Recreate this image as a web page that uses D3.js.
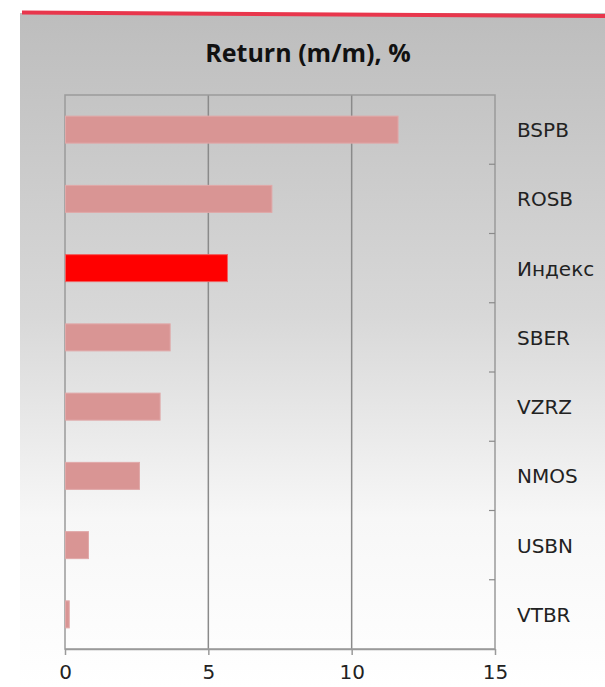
<!DOCTYPE html>
<html>
<head>
<meta charset="utf-8">
<script src="https://cdn.jsdelivr.net/npm/d3@7"></script>
<style>
  html, body { margin: 0; padding: 0; background: #fff; }
  svg { display: block; }
</style>
</head>
<body>
<script>
  const tickers = ['BSPB', 'ROSB', 'Индекс', 'SBER', 'VZRZ', 'NMOS', 'USBN', 'VTBR']
  const returns = [11.6, 7.2, 5.65, 3.65, 3.3, 2.58, 0.8, 0.13]
  const xTicks = [0, 5, 10, 15]
  const highlight = 'Индекс'

  const data = tickers.map((t, i) => ({ name: t, value: returns[i] }))

  let size = { width: 605, height: 687 }
  let plot = { left: 65, right: 495, top: 95, bottom: 649 }

  let svg = d3.select('body')
    .append('svg')
    .attr('width', size.width)
    .attr('height', size.height)

  let defs = svg.append('defs')
  let grad = defs.append('linearGradient')
    .attr('id', 'bg')
    .attr('x1', 0).attr('y1', 0).attr('x2', 0).attr('y2', 1)
  grad.append('stop').attr('offset', '0%').attr('stop-color', '#bdbdbd')
  grad.append('stop').attr('offset', '45%').attr('stop-color', '#d8d8d8')
  grad.append('stop').attr('offset', '75%').attr('stop-color', '#f7f7f7')
  grad.append('stop').attr('offset', '100%').attr('stop-color', '#ffffff')

  svg.append('rect')
    .attr('x', 20).attr('y', 13)
    .attr('width', size.width - 20).attr('height', size.height - 13)
    .attr('fill', 'url(#bg)')

  // red strip on top
  svg.append('line')
    .attr('x1', 22).attr('y1', 12.5)
    .attr('x2', size.width).attr('y2', 16)
    .attr('stroke', '#e8364c')
    .attr('stroke-width', 4)

  svg.append('text')
    .attr('x', 308)
    .attr('y', 61.5)
    .attr('text-anchor', 'middle')
    .style('font-family', '"Open Sans", "Liberation Sans", sans-serif')
    .style('font-size', '25px')
    .style('font-weight', 'bold')
    .attr('fill', '#111')
    .text('Return (m/m), %')

  let xScale = d3.scaleLinear()
    .domain([0, 15])
    .range([plot.left, plot.right])

  let yScale = d3.scaleBand()
    .domain(tickers)
    .range([plot.top, plot.bottom])
    .paddingInner(0.61)
    .paddingOuter(0.305)

  let yBounds = d3.scaleLinear()
    .domain([0, tickers.length])
    .range([plot.top, plot.bottom])

  // vertical grid lines
  svg.append('g')
    .selectAll('line')
    .data(xTicks.slice(1, -1))
    .enter()
    .append('line')
    .attr('x1', d => xScale(d)).attr('x2', d => xScale(d))
    .attr('y1', plot.top).attr('y2', plot.bottom)
    .attr('stroke', '#8a8a8a')
    .attr('stroke-width', 1.5)

  // plot frame
  svg.append('rect')
    .attr('x', plot.left).attr('y', plot.top)
    .attr('width', plot.right - plot.left)
    .attr('height', plot.bottom - plot.top)
    .attr('fill', 'none')
    .attr('stroke', '#9a9a9a')
    .attr('stroke-width', 1.5)

  // category tick marks on the right side
  svg.append('g')
    .selectAll('line')
    .data(d3.range(1, tickers.length))
    .enter()
    .append('line')
    .attr('x1', plot.right - 6).attr('x2', plot.right)
    .attr('y1', d => yBounds(d)).attr('y2', d => yBounds(d))
    .attr('stroke', '#8a8a8a')
    .attr('stroke-width', 1.2)

  // bottom axis
  let xAxis = d3.axisBottom(xScale)
    .tickValues(xTicks)
    .tickSize(6)
    .tickPadding(10)
    .tickSizeOuter(0)

  let gx = svg.append('g')
    .attr('transform', 'translate(0, ' + plot.bottom + ')')
    .call(xAxis)
  gx.select('.domain').attr('stroke', '#9a9a9a').attr('stroke-width', 1.5)
  gx.selectAll('.tick line').attr('stroke', '#9a9a9a').attr('stroke-width', 1.5)
  gx.selectAll('.tick text')
    .attr('fill', '#222')
    .style('font-family', '"DejaVu Sans", Verdana, sans-serif')
    .style('font-size', '20px')

  svg.append('g')
    .selectAll('rect')
    .data(data)
    .enter()
    .append('rect')
    .attr('x', xScale(0) + 0.5)
    .attr('y', d => yScale(d.name))
    .attr('width', d => xScale(d.value) - xScale(0))
    .attr('height', yScale.bandwidth())
    .attr('fill', d => d.name === highlight ? '#ff0000' : '#d99594')
    .attr('stroke', d => d.name === highlight ? '#f06060' : '#e0a8a8')
    .attr('stroke-width', 1)

  svg.append('g')
    .selectAll('text')
    .data(tickers)
    .enter()
    .append('text')
    .attr('x', 517)
    .attr('y', d => yScale(d) + yScale.bandwidth() / 2)
    .attr('dy', '0.37em')
    .attr('fill', '#222')
    .style('font-family', '"DejaVu Sans", Verdana, sans-serif')
    .style('font-size', '20px')
    .text(d => d)
</script>
</body>
</html>
